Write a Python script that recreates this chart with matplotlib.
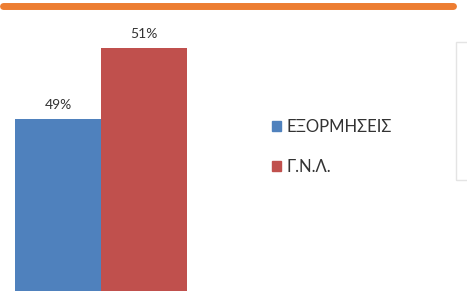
import matplotlib
matplotlib.use("Agg")
import matplotlib.pyplot as plt
from matplotlib.patches import Rectangle, Patch
from matplotlib.lines import Line2D

# data
labels = ["ΕΞΟΡΜΗΣΕΙΣ", "Γ.Ν.Λ."]
values = [49, 51]
colors = ["#4F81BD", "#C0504D"]

W, H = 467, 296
fig = plt.figure(figsize=(W / 100, H / 100), dpi=100)
plt.rcParams['font.family'] = ['Lato', 'DejaVu Sans']

# axes: bars from x=15..187 px, bottom at 291 px
ax = fig.add_axes([15 / W, (H - 291) / H, 172 / W, 291 / H])
x = range(len(values))
bars = ax.bar(x, values, width=1.0, color=colors, bottom=0)
ax.set_xlim(-0.5, 1.5)
ax.set_ylim(44.15, 52.35)
for b, v in zip(bars, values):
    ax.text(b.get_x() + b.get_width() / 2, v + 0.4, f"{v}%",
            ha="center", va="center", fontsize=10, color="#333333")
ax.axis("off")

# legend
handles = [Patch(color=c, label=l) for c, l in zip(colors, labels)]
fig.legend(handles=handles, loc="center left", bbox_to_anchor=(257 / W, 1 - 147 / H),
           frameon=False, fontsize=12, handlelength=0.55, handleheight=0.55,
           handletextpad=0.35, labelspacing=1.4, labelcolor="#333333")

# orange stroke at the top
fig.add_artist(Line2D([3 / W, 453 / W], [1 - 6 / H, 1 - 6 / H], color="#ED7D31",
                      lw=5, solid_capstyle="round", transform=fig.transFigure))

# faint frame of the neighbouring chart on the right
fig.add_artist(Rectangle((456 / W, 1 - 180 / H), 20 / W, 138 / H, fill=False,
                         ec="#e4e4e4", lw=1, transform=fig.transFigure))

fig.savefig("out.png", dpi=100)
